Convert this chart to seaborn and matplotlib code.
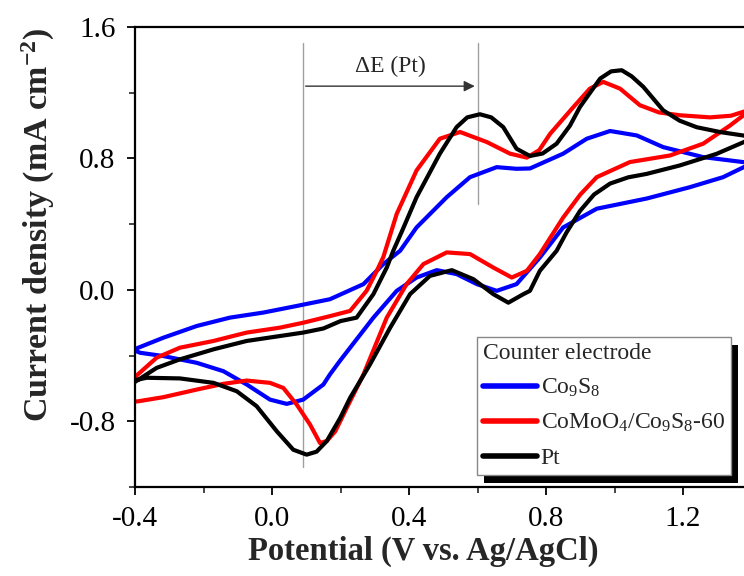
import numpy as np
import pandas as pd
import matplotlib
matplotlib.use("Agg")
import matplotlib.pyplot as plt
import seaborn as sns
from matplotlib.patches import Rectangle
from matplotlib.lines import Line2D
from matplotlib.transforms import IdentityTransform
from matplotlib.ticker import FormatStrFormatter

# ---------------- data ----------------
# Co9S8 : forward (anodic) branch then reverse (cathodic) branch
co9s8_E = [-0.40, -0.317, -0.22, -0.123, -0.025, 0.072, 0.169, 0.267, 0.325, 0.374, 0.422, 0.51, 0.578,
           0.656, 0.714, 0.753, 0.85, 0.919, 0.987, 1.065, 1.142, 1.259, 1.375, 1.40,
           1.40, 1.317, 1.22, 1.094, 0.948, 0.85, 0.782, 0.714, 0.656, 0.598, 0.539, 0.481, 0.422,
           0.364, 0.296, 0.228, 0.199, 0.169, 0.15, 0.091, 0.043, -0.006, -0.074, -0.142, -0.22,
           -0.317, -0.385, -0.40]
co9s8_J = [-0.36, -0.291, -0.22, -0.169, -0.138, -0.098, -0.057, 0.035, 0.157, 0.238, 0.38, 0.564, 0.686,
           0.747, 0.737, 0.739, 0.829, 0.92, 0.967, 0.94, 0.869, 0.808, 0.778, 0.775,
           0.77, 0.686, 0.625, 0.556, 0.494, 0.38, 0.197, 0.035, -0.006, 0.035, 0.096, 0.12, 0.075,
           -0.006, -0.169, -0.352, -0.43, -0.515, -0.576, -0.668, -0.694, -0.668, -0.576, -0.495, -0.444,
           -0.403, -0.383, -0.37]

# CoMoO4/Co9S8-60
comoo_E = [-0.40, -0.337, -0.269, -0.171, -0.074, 0.023, 0.091, 0.169, 0.228, 0.276, 0.306, 0.325, 0.364,
           0.422, 0.49, 0.549, 0.627, 0.695, 0.744, 0.78, 0.812, 0.88, 0.928, 0.967, 1.016, 1.074,
           1.13, 1.19, 1.279, 1.34, 1.40,
           1.40, 1.337, 1.259, 1.162, 1.045, 0.948, 0.90, 0.85, 0.782, 0.744, 0.70, 0.646, 0.578,
           0.51, 0.442, 0.393, 0.335, 0.267, 0.218, 0.185, 0.16, 0.14, 0.111, 0.072, 0.033, -0.006,
           -0.074, -0.142, -0.22, -0.317, -0.39, -0.40]
comoo_J = [-0.53, -0.413, -0.352, -0.311, -0.26, -0.23, -0.20, -0.16, -0.128, -0.006, 0.116, 0.20, 0.462,
           0.727, 0.92, 0.961, 0.90, 0.829, 0.805, 0.85, 0.95, 1.113, 1.225, 1.266, 1.225, 1.124,
           1.08, 1.063, 1.05, 1.06, 1.10,
           1.10, 1.00, 0.89, 0.818, 0.778, 0.686, 0.58, 0.44, 0.218, 0.116, 0.075, 0.136, 0.218,
           0.228, 0.157, 0.035, -0.169, -0.515, -0.719, -0.86, -0.92, -0.932, -0.82, -0.698, -0.597, -0.566,
           -0.552, -0.572, -0.607, -0.653, -0.678, -0.68]

# Pt
pt_E = [-0.40, -0.337, -0.269, -0.171, -0.074, 0.023, 0.091, 0.15, 0.20, 0.247, 0.296, 0.335, 0.354,
        0.38, 0.422, 0.49, 0.539, 0.57, 0.607, 0.64, 0.675, 0.714, 0.753, 0.79, 0.831, 0.87, 0.899,
        0.958, 0.99, 1.021, 1.05, 1.084, 1.142, 1.19, 1.24, 1.31, 1.375, 1.40,
        1.40, 1.298, 1.19, 1.094, 1.04, 0.987, 0.94, 0.899, 0.86, 0.831, 0.782, 0.753, 0.734, 0.69,
        0.646, 0.588, 0.525, 0.461, 0.403, 0.345, 0.286, 0.228, 0.199, 0.16, 0.13, 0.101, 0.062,
        0.014, -0.045, -0.103, -0.171, -0.269, -0.366, -0.40]
pt_J = [-0.56, -0.475, -0.423, -0.362, -0.311, -0.281, -0.26, -0.235, -0.19, -0.169, -0.026, 0.136, 0.238,
        0.36, 0.564, 0.829, 0.991, 1.05, 1.069, 1.05, 0.991, 0.859, 0.815, 0.83, 0.89, 1.00, 1.113,
        1.286, 1.33, 1.337, 1.30, 1.236, 1.093, 1.03, 0.99, 0.96, 0.94, 0.93,
        0.92, 0.828, 0.757, 0.706, 0.685, 0.647, 0.58, 0.48, 0.35, 0.238, 0.116, -0.006, -0.026, -0.078,
        -0.026, 0.065, 0.12, 0.085, -0.026, -0.23, -0.454, -0.657, -0.78, -0.92, -0.985, -1.003, -0.973,
        -0.861, -0.708, -0.617, -0.566, -0.539, -0.535, -0.55]

labels = ["Co$_9$S$_8$", "CoMoO$_4$/Co$_9$S$_8$-60", "Pt"]
colors = ["#0000ff", "#ff0000", "#000000"]
legend_title = "Counter electrode"

# peak-separation annotation for Pt
dE_cathodic_E = 0.09
dE_anodic_E = 0.60
dE_text = "\u0394E (Pt)"

xticks_major = [-0.4, 0.0, 0.4, 0.8, 1.2]
yticks_major = [-0.8, 0.0, 0.8, 1.6]

# ---------------- style ----------------
sns.set_theme(style="ticks")
plt.rcParams["font.family"] = ["Liberation Serif", "DejaVu Serif"]
plt.rcParams["mathtext.fontset"] = "custom"
plt.rcParams["mathtext.rm"] = "Liberation Serif"
plt.rcParams["mathtext.it"] = "Liberation Serif:italic"
plt.rcParams["mathtext.bf"] = "Liberation Serif:bold"
plt.rcParams["mathtext.default"] = "regular"
plt.rcParams["axes.unicode_minus"] = False

fig = plt.figure(figsize=(7.44, 5.76), dpi=100)
ax = fig.add_axes([0.1815, 0.1545, 0.8286, 0.7986])

frames = []
for name, xs, ys in zip(labels, [co9s8_E, comoo_E, pt_E], [co9s8_J, comoo_J, pt_J]):
    frames.append(pd.DataFrame({"E": xs, "J": ys, "electrode": name}))
df = pd.concat(frames, ignore_index=True)

sns.lineplot(data=df, x="E", y="J", hue="electrode", hue_order=labels,
             palette=dict(zip(labels, colors)), sort=False, estimator=None,
             lw=3, legend=False, ax=ax)

ax.set_xlim(-0.4, 1.4)
ax.set_ylim(-1.2, 1.6)
ax.set_xticks(xticks_major)
ax.set_xticks(np.arange(-0.4, 1.41, 0.2), minor=True)
ax.set_yticks(yticks_major)
ax.set_yticks(np.arange(-1.2, 1.61, 0.4), minor=True)
ax.xaxis.set_major_formatter(FormatStrFormatter("%.1f"))
ax.yaxis.set_major_formatter(FormatStrFormatter("%.1f"))
ax.tick_params(which="major", direction="out", length=6, width=1.3, labelsize=21, pad=8, colors="black")
ax.tick_params(which="minor", direction="out", length=4, width=1.2)
for s in ax.spines.values():
    s.set_linewidth(1.6)
    s.set_color("black")

ax.set_xlabel("Potential (V vs. Ag/AgCl)", fontsize=23.5, fontweight="bold", va="center")
ax.set_ylabel("Current density (mA cm$^{\\mathbf{-2}}$)", fontsize=24.5, fontweight="bold", va="center")
ax.xaxis.set_label_coords(0.467, -0.14)
ax.yaxis.set_label_coords(-0.157, 0.57)

# annotation lines
ax.plot([dE_cathodic_E, dE_cathodic_E], [1.50, -1.08], color="#a0a0a0", lw=1, zorder=1)
ax.plot([dE_anodic_E, dE_anodic_E], [1.50, 0.525], color="#a0a0a0", lw=1, zorder=1)
ax.annotate("", xy=(dE_anodic_E, 1.24), xytext=(dE_cathodic_E, 1.24),
            arrowprops=dict(arrowstyle="-|>", color="#333333", lw=1, mutation_scale=16))
ax.text((dE_cathodic_E + dE_anodic_E) / 2, 1.36, dE_text, fontsize=17, ha="center", va="center")

handles = [Line2D([0], [0], color=c, lw=4) for c in colors]
leg = ax.legend(handles, labels, title=legend_title, loc="upper left",
                bbox_to_anchor=(477 / 744, 1 - 337 / 576), bbox_transform=fig.transFigure,
                borderaxespad=0, fontsize=17, title_fontsize=17, alignment="left",
                frameon=True, fancybox=False, framealpha=1, edgecolor="#888888",
                handlelength=2.3, handletextpad=0.15, labelspacing=0.55, borderpad=0.25)
leg.get_frame().set_linewidth(1)

fig.canvas.draw()
bb = leg.legendPatch.get_window_extent(fig.canvas.get_renderer())
shadow = Rectangle((bb.x0 + 7, bb.y0 - 8), bb.width, bb.height, transform=IdentityTransform(),
                   facecolor="black", edgecolor="none", zorder=4.5, clip_on=False)
ax.add_artist(shadow)

fig.savefig("out.png", dpi=100)
